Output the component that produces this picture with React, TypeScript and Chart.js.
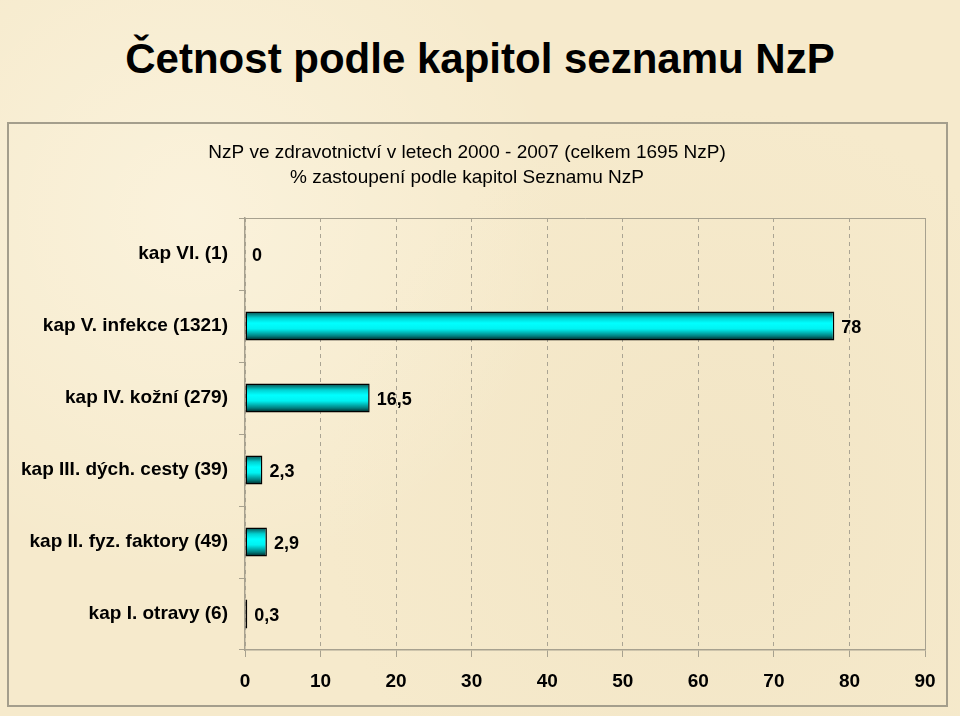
import React, { useEffect, useRef } from "react";
import { Chart, registerables } from "chart.js";

Chart.register(...registerables);

const pageTitle = "Četnost podle kapitol seznamu NzP";
const chartTitleLines = [
  "NzP ve zdravotnictví v letech 2000 - 2007 (celkem 1695 NzP)",
  "% zastoupení podle kapitol Seznamu NzP",
];
const categories = [
  "kap VI. (1)",
  "kap V. infekce (1321)",
  "kap IV. kožní (279)",
  "kap III. dých. cesty (39)",
  "kap II. fyz. faktory (49)",
  "kap I. otravy (6)",
];
const percentValues = [0, 78, 16.5, 2.3, 2.9, 0.3];
const xMin = 0;
const xMax = 90;
const xStep = 10;

const FONT = "'Liberation Sans', Arial, Helvetica, sans-serif";
const BAR_PCT = 0.4;

const formatValue = (v: number) => String(v).replace(".", ",");

const valueLabelPlugin = {
  id: "valueLabels",
  afterDatasetsDraw(chart: any) {
    const ctx = chart.ctx;
    const meta = chart.getDatasetMeta(0);
    ctx.save();
    ctx.font = `bold 18px ${FONT}`;
    ctx.fillStyle = "#000";
    ctx.textAlign = "left";
    ctx.textBaseline = "middle";
    meta.data.forEach((el: any, i: number) => {
      const v = chart.data.datasets[0].data[i];
      ctx.fillText(formatValue(v), el.x + 7, el.y + 2);
    });
    ctx.restore();
  },
};

const frameTopRightPlugin = {
  id: "frameTopRight",
  beforeDatasetsDraw(chart: any) {
    const { ctx, chartArea } = chart;
    ctx.save();
    ctx.strokeStyle = "#a7a18f";
    ctx.lineWidth = 1;
    ctx.beginPath();
    ctx.moveTo(chartArea.left, chartArea.top + 0.5);
    ctx.lineTo(chartArea.right + 0.5, chartArea.top + 0.5);
    ctx.lineTo(chartArea.right + 0.5, chartArea.bottom);
    ctx.stroke();
    ctx.restore();
  },
};

function barGradient(context: any) {
  const chart = context.chart;
  const yScale = chart.scales && chart.scales.y;
  if (!chart.chartArea || !yScale) return "#00ffff";
  const idx = context.dataIndex;
  const yc = yScale.getPixelForValue(idx);
  const step = yScale.height / categories.length;
  const h = step * BAR_PCT;
  const g = chart.ctx.createLinearGradient(0, yc - h / 2, 0, yc + h / 2);
  g.addColorStop(0, "#0c4646");
  g.addColorStop(0.22, "#00d2d2");
  g.addColorStop(0.4, "#00ffff");
  g.addColorStop(0.6, "#00f2f2");
  g.addColorStop(0.85, "#007f7f");
  g.addColorStop(1, "#001c1c");
  return g;
}

function ChartCanvas() {
  const ref = useRef<HTMLCanvasElement | null>(null);
  useEffect(() => {
    if (!ref.current) return;
    const chart = new Chart(ref.current, {
      type: "bar",
      data: {
        labels: categories,
        datasets: [
          {
            data: percentValues,
            backgroundColor: barGradient as any,
            borderColor: "#000",
            borderWidth: 1.5,
            borderSkipped: false,
            barPercentage: BAR_PCT,
            categoryPercentage: 1,
          },
        ],
      },
      options: {
        indexAxis: "y",
        animation: false,
        responsive: false,
        maintainAspectRatio: false,
        layout: { padding: { left: 0, right: 21, top: 0, bottom: 0 } },
        plugins: {
          legend: { display: false },
          tooltip: { enabled: false },
          title: {
            display: true,
            text: chartTitleLines,
            color: "#000",
            font: { family: FONT, size: 19, weight: "normal", lineHeight: 1.316 },
            padding: { top: 16.5, bottom: 27.5 },
          },
        },
        scales: {
          x: {
            min: xMin,
            max: xMax,
            ticks: {
              stepSize: xStep,
              color: "#000",
              font: { family: FONT, size: 19, weight: "bold" },
              padding: 13,
              maxRotation: 0,
            },
            grid: {
              color: "#aaa493",
              lineWidth: 1,
              drawTicks: true,
              tickLength: 7,
              tickColor: "#a7a18f",
            },
            border: { display: true, color: "#a7a18f", width: 1.5, dash: [4, 4] },
            afterFit: (scale: any) => {
              scale.height = 55;
              scale.paddingRight = 0;
              scale.paddingLeft = 0;
            },
          },
          y: {
            ticks: {
              color: "#000",
              font: { family: FONT, size: 19, weight: "bold" },
              padding: 11,
            },
            grid: {
              offset: true,
              drawOnChartArea: false,
              drawTicks: true,
              tickLength: 6,
              color: "#a7a18f",
            },
            border: { display: true, color: "#a7a18f", width: 1.5 },
            afterFit: (scale: any) => {
              scale.width = 236;
            },
          },
        },
      },
      plugins: [frameTopRightPlugin, valueLabelPlugin],
    } as any);
    return () => chart.destroy();
  }, []);
  return <canvas ref={ref} width={937} height={581} style={{ display: "block", width: 937, height: 581 }} />;
}

export default function App() {
  useEffect(() => {
    document.body.style.margin = "0";
  }, []);
  return (
    <div
      style={{
        position: "relative",
        width: 960,
        height: 716,
        overflow: "hidden",
        background:
          "radial-gradient(circle at 20% 30%, rgba(255,250,235,0.5), rgba(255,250,235,0) 40%), radial-gradient(circle at 75% 70%, rgba(235,220,185,0.35), rgba(235,220,185,0) 45%), #f6eacc",
        fontFamily: FONT,
      }}
    >
      <div
        style={{
          position: "absolute",
          left: 0,
          top: 38,
          width: 960,
          textAlign: "center",
          fontSize: 42,
          lineHeight: "42px",
          fontWeight: "bold",
          color: "#000",
        }}
      >
        {pageTitle}
      </div>
      <div
        style={{
          position: "absolute",
          left: 7,
          top: 122,
          width: 937,
          height: 581,
          border: "2px solid #a49e8c",
        }}
      >
        <ChartCanvas />
      </div>
    </div>
  );
}
